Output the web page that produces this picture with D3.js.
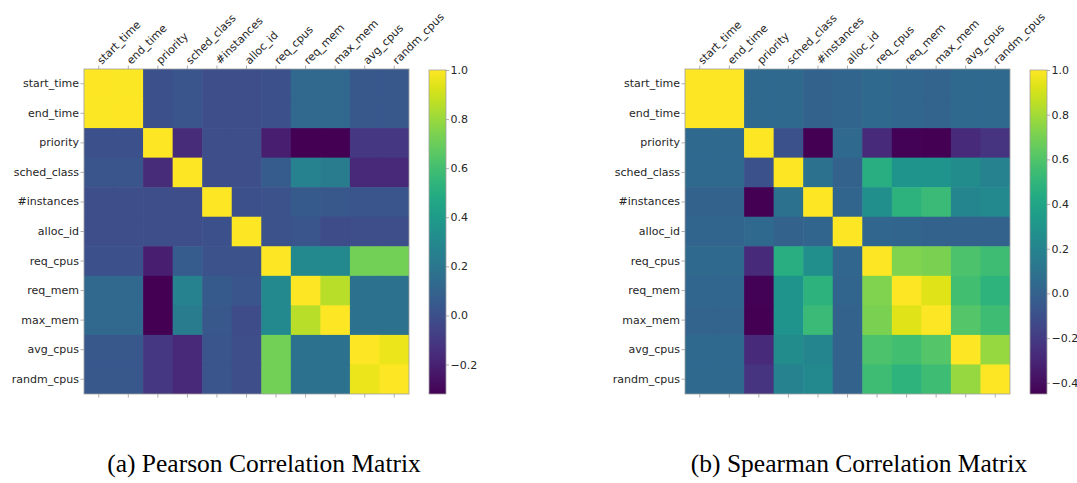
<!DOCTYPE html>
<html lang="en">
<head>
  <meta charset="UTF-8">
  <title>Pearson and Spearman Correlation Matrices</title>
  <script src="https://d3js.org/d3.v7.min.js"></script>
  <style>
    body {
      margin: 0;
      background: white;
    }
    .tickLabel text {
      font-family: 'DejaVu Sans', sans-serif;
      font-size: 11px;
      fill: #262626;
    }
    .tickLabel line {
      stroke: #9a9a9a;
      stroke-width: 0.8;
    }
    .caption {
      font-family: 'Liberation Serif', 'Times New Roman', serif;
      font-size: 25.5px;
      fill: black;
    }
  </style>
</head>
<body>

<svg width="1077" height="483"></svg>

<script>
const width = 1077, height = 483;

const labels = ["start_time", "end_time", "priority", "sched_class", "#instances", "alloc_id",
  "req_cpus", "req_mem", "max_mem", "avg_cpus", "randm_cpus"];

// values (symmetric)
const pearsonValues = [
  [ 1.00,  0.99,  0.00,  0.03, -0.01, -0.01,  0.00,  0.12,  0.12,  0.04,  0.04],
  [ 0.99,  1.00,  0.00,  0.03, -0.01, -0.01,  0.00,  0.12,  0.12,  0.04,  0.04],
  [ 0.00,  0.00,  1.00, -0.16, -0.01, -0.01, -0.21, -0.32, -0.32, -0.11, -0.11],
  [ 0.03,  0.03, -0.16,  1.00, -0.01, -0.01,  0.06,  0.26,  0.23, -0.17, -0.17],
  [-0.01, -0.01, -0.01, -0.01,  1.00,  0.00,  0.01,  0.05,  0.04,  0.03,  0.03],
  [-0.01, -0.01, -0.01, -0.01,  0.00,  1.00,  0.01,  0.03, -0.02, -0.01, -0.01],
  [ 0.00,  0.00, -0.21,  0.06,  0.01,  0.01,  1.00,  0.30,  0.30,  0.72,  0.72],
  [ 0.12,  0.12, -0.32,  0.26,  0.05,  0.03,  0.30,  1.00,  0.86,  0.18,  0.18],
  [ 0.12,  0.12, -0.32,  0.23,  0.04, -0.02,  0.30,  0.86,  1.00,  0.18,  0.18],
  [ 0.04,  0.04, -0.11, -0.17,  0.03, -0.01,  0.72,  0.18,  0.18,  1.00,  0.96],
  [ 0.04,  0.04, -0.11, -0.17,  0.03, -0.01,  0.72,  0.18,  0.18,  0.96,  1.00]
];

const spearmanValues = [
  [ 1.00,  1.00,  0.04,  0.04,  0.00,  0.02,  0.04,  0.03,  0.01,  0.04,  0.04],
  [ 1.00,  1.00,  0.04,  0.04,  0.00,  0.02,  0.04,  0.03,  0.01,  0.04,  0.04],
  [ 0.04,  0.04,  1.00, -0.09, -0.45,  0.04, -0.28, -0.44, -0.45, -0.28, -0.23],
  [ 0.04,  0.04, -0.09,  1.00,  0.09,  0.00,  0.46,  0.30,  0.30,  0.25,  0.19],
  [ 0.00,  0.00, -0.45,  0.09,  1.00,  0.02,  0.27,  0.48,  0.53,  0.21,  0.23],
  [ 0.02,  0.02,  0.04,  0.00,  0.02,  1.00,  0.03,  0.02,  0.00,  0.00,  0.00],
  [ 0.04,  0.04, -0.28,  0.46,  0.27,  0.03,  1.00,  0.72,  0.71,  0.59,  0.55],
  [ 0.03,  0.03, -0.44,  0.30,  0.48,  0.02,  0.72,  1.00,  0.93,  0.56,  0.49],
  [ 0.01,  0.01, -0.45,  0.30,  0.53,  0.00,  0.71,  0.93,  1.00,  0.61,  0.55],
  [ 0.04,  0.04, -0.28,  0.25,  0.21,  0.00,  0.59,  0.56,  0.61,  1.00,  0.77],
  [ 0.04,  0.04, -0.23,  0.19,  0.23,  0.00,  0.55,  0.49,  0.55,  0.77,  1.00]
];

const pearsonTicks = [-0.2, 0.0, 0.2, 0.4, 0.6, 0.8, 1.0];
const spearmanTicks = [-0.4, -0.2, 0.0, 0.2, 0.4, 0.6, 0.8, 1.0];

const captions = ["(a) Pearson Correlation Matrix", "(b) Spearman Correlation Matrix"];

const svg = d3.select("svg")
  .attr("width", width)
  .attr("height", height);

const defs = svg.append("defs");

const topY = 69, side = 325;

function drawPanel(id, left, values, ticks, caption, captionX) {
  const g = svg.append("g");
  const flat = values.flat();
  const vmin = d3.min(flat), vmax = d3.max(flat);

  const color = d3.scaleSequential(d3.interpolateViridis).domain([vmin, vmax]);

  const x = d3.scaleBand().domain(labels).range([left, left + side]);
  const y = d3.scaleBand().domain(labels).range([topY, topY + side]);

  const cells = [];
  values.forEach((row, i) => row.forEach((v, j) => cells.push({ r: labels[i], c: labels[j], v })));

  g.selectAll(".cell")
    .data(cells)
    .enter().append("rect")
    .attr("class", "cell")
    .attr("x", d => x(d.c))
    .attr("y", d => y(d.r))
    .attr("width", d => x.bandwidth() + (d.c === labels[labels.length - 1] ? 0 : 0.6))
    .attr("height", d => y.bandwidth() + (d.r === labels[labels.length - 1] ? 0 : 0.6))
    .style("fill", d => color(d.v));

  // frame
  g.append("rect")
    .attr("x", left).attr("y", topY)
    .attr("width", side).attr("height", side)
    .style("fill", "none")
    .style("stroke", "#a0a0a0")
    .style("stroke-width", 0.8);

  const yAxis = g.append("g")
    .attr("class", "tickLabel")
    .attr("transform", `translate(${left},0)`)
    .call(d3.axisLeft(y).tickSize(3.5).tickPadding(1.5));
  yAxis.select(".domain").remove();

  const xTop = g.append("g")
    .attr("class", "tickLabel")
    .attr("transform", `translate(0,${topY})`)
    .call(d3.axisTop(x).tickSize(3.5));
  xTop.select(".domain").remove();
  xTop.selectAll("text")
    .attr("text-anchor", "start")
    .attr("x", 0).attr("y", 0).attr("dy", 0)
    .attr("transform", "translate(3,-4) rotate(-45)");

  const xBottom = g.append("g")
    .attr("class", "tickLabel")
    .attr("transform", `translate(0,${topY + side})`)
    .call(d3.axisBottom(x).tickSize(3.5).tickFormat(""));
  xBottom.select(".domain").remove();

  // colorbar
  const cbLeft = left + 345, cbWidth = 17;
  const cbScale = d3.scaleLinear().domain([vmin, vmax]).range([topY + side, topY + 1]);

  const grad = defs.append("linearGradient")
    .attr("id", `cbGrad${id}`)
    .attr("x1", "0%").attr("x2", "0%")
    .attr("y1", "100%").attr("y2", "0%");
  d3.range(0, 1.0001, 0.05).forEach(t => {
    grad.append("stop")
      .attr("offset", `${t * 100}%`)
      .attr("stop-color", d3.interpolateViridis(t));
  });

  g.append("rect")
    .attr("x", cbLeft).attr("y", cbScale(vmax))
    .attr("width", cbWidth)
    .attr("height", cbScale(vmin) - cbScale(vmax))
    .style("fill", `url(#cbGrad${id})`)
    .style("stroke", "#a0a0a0")
    .style("stroke-width", 0.8);

  const cbAxis = g.append("g")
    .attr("class", "tickLabel")
    .attr("transform", `translate(${cbLeft + cbWidth},0)`)
    .call(d3.axisRight(cbScale).tickValues(ticks).tickSize(3).tickPadding(1.5).tickFormat(d3.format(".1f")));
  cbAxis.select(".domain").remove();

  svg.append("text")
    .attr("class", "caption")
    .attr("x", captionX)
    .attr("y", 472)
    .attr("text-anchor", "middle")
    .text(caption);
}

drawPanel(0, 84, pearsonValues, pearsonTicks, captions[0], 264);
drawPanel(1, 685, spearmanValues, spearmanTicks, captions[1], 859);
</script>

</body>
</html>
